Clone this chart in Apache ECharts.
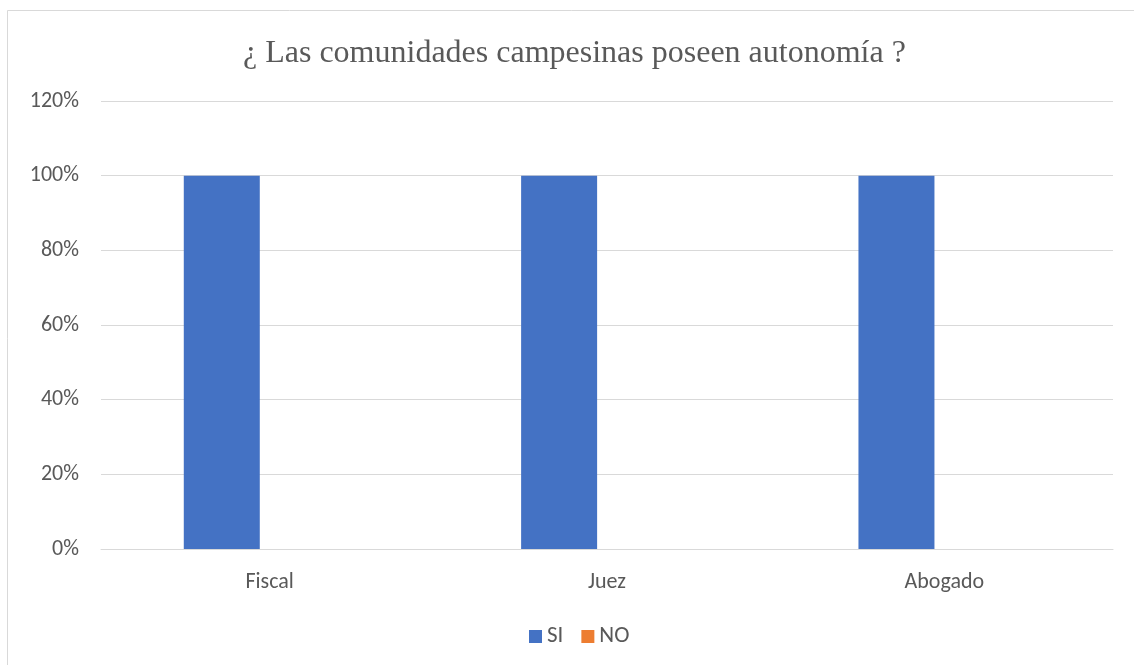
<!DOCTYPE html>
<html>
<head>
<meta charset="utf-8">
<script src="https://cdn.jsdelivr.net/npm/echarts@6/dist/echarts.min.js"></script>
<style>
  html, body { margin: 0; padding: 0; background: #fff; }
  #chart { width: 1134px; height: 665px; }
</style>
</head>
<body>
<div id="chart"></div>
<script>
const categories = ["Fiscal", "Juez", "Abogado"];
const siValues = [1, 1, 1];
const noValues = [0, 0, 0];
const yTicks = [0, 0.2, 0.4, 0.6, 0.8, 1.0, 1.2];

const labelFont = "Carlito, 'Liberation Sans', sans-serif";
const gridColor = "#d9d9d9";
const textColor = "#595959";

const chart = echarts.init(document.getElementById("chart"));
chart.setOption({
  backgroundColor: "#fff",
  animation: false,
  title: {
    text: "¿ Las comunidades campesinas poseen autonomía ?",
    left: 238,
    top: 33,
    textStyle: {
      fontFamily: "'Liberation Serif', 'Times New Roman', serif",
      fontSize: 32,
      fontWeight: "normal",
      color: textColor
    }
  },
  graphic: [{
    type: "rect",
    shape: { x: 7.5, y: 10.5, width: 1140, height: 700 },
    style: { fill: "none", stroke: gridColor, lineWidth: 1 },
    silent: true
  }],
  color: ["#4472C4", "#ED7D31"],
  legend: {
    left: 524,
    top: 620,
    icon: "rect",
    itemWidth: 13,
    itemHeight: 13,
    itemGap: 18,
    itemTextGap: 6,
    data: ["SI", "NO"],
    textStyle: { fontFamily: labelFont, fontSize: 23, color: textColor }
  },
  grid: {
    left: 101,
    right: 21,
    top: 101,
    bottom: 116,
    containLabel: false
  },
  xAxis: {
    type: "category",
    data: categories,
    axisLine: { lineStyle: { color: gridColor } },
    axisTick: { show: false },
    axisLabel: { fontFamily: labelFont, fontSize: 22, color: textColor, margin: 22 }
  },
  yAxis: {
    type: "value",
    min: yTicks[0],
    max: yTicks[yTicks.length - 1],
    interval: 0.2,
    axisLine: { show: false },
    axisTick: { show: false },
    splitLine: { lineStyle: { color: gridColor } },
    axisLabel: {
      fontFamily: labelFont,
      fontSize: 22,
      color: textColor,
      margin: 22,
      formatter: v => Math.round(v * 100) + "%"
    }
  },
  series: [
    { name: "SI", type: "bar", data: siValues, barWidth: 76, barGap: "26%" },
    { name: "NO", type: "bar", data: noValues, barWidth: 76 }
  ]
});
</script>
</body>
</html>
